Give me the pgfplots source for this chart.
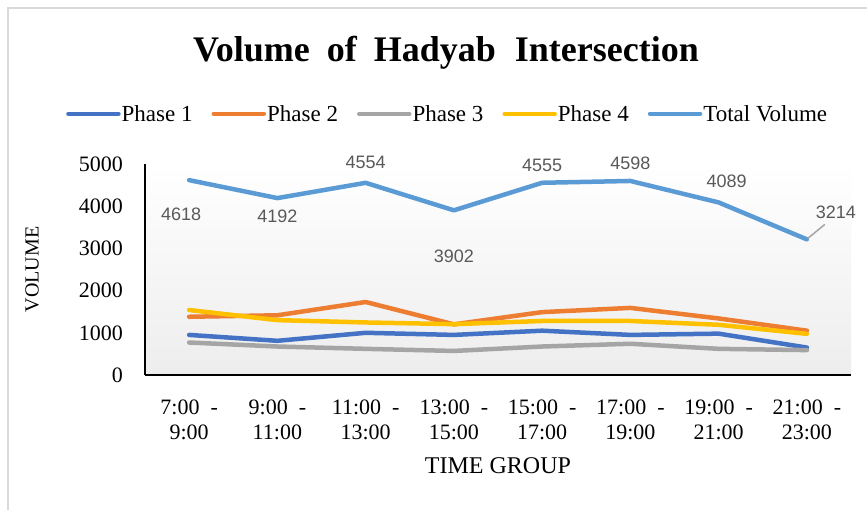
\documentclass[border=0pt]{standalone}
\usepackage{pgfplots}
\pgfplotsset{compat=1.18}
\usepackage{fontspec}
\setmainfont{Liberation Serif}
\newfontfamily\arial{Liberation Sans}
\definecolor{cP1}{HTML}{4472C4}
\definecolor{cP2}{HTML}{ED7D31}
\definecolor{cP3}{HTML}{A5A5A5}
\definecolor{cP4}{HTML}{FFC000}
\definecolor{cTot}{HTML}{5B9BD5}
\definecolor{lbl}{HTML}{595959}
\begin{document}
\begin{tikzpicture}[x=1pt,y=1pt]
\path[use as bounding box] (0,0) rectangle (867,509);
\begin{scope}
\clip (0,0) rectangle (867,509);
\fill[white] (0,0) rectangle (867,509);
\draw[black!15, line width=2pt] (8,-20) rectangle (900,501);
\node[font=\bfseries\fontsize{36}{40}\selectfont, inner sep=0pt] at (446,456) {Volume\hspace{17pt}of\hspace{17pt}Hadyab\hspace{19pt}Intersection};
\begin{axis}[
  at={(145pt,134pt)}, anchor=south west,
  width=706pt, height=211pt, scale only axis,
  xmin=-0.5, xmax=7.5, ymin=0, ymax=5000,
  axis lines*=left,
  axis line style={black, line width=1.6pt},
  axis background/.style={shade, top color=white, bottom color=black!7},
  xtick={0,...,7},
  xticklabels={{7:00\ \ -\\9:00},{9:00\ \ -\\11:00},{11:00\ \ -\\13:00},{13:00\ \ -\\15:00},{15:00\ \ -\\17:00},{17:00\ \ -\\19:00},{19:00\ \ -\\21:00},{21:00\ \ -\\23:00}},
  ytick={0,1000,2000,3000,4000,5000},
  yticklabels={0,1000,2000,3000,4000,5000},
  major tick length=0pt,
  ticklabel style={font=\fontsize{22}{25}\selectfont, inner sep=0pt},
  xticklabel style={align=center, yshift=-25pt},
  yticklabel style={xshift=-22pt},
  xlabel={TIME GROUP},
  ylabel={VOLUME},
  xlabel style={font=\fontsize{24}{26}\selectfont, at={(rel axis cs:0.5,-0.431)}, anchor=center, inner sep=0pt},
  ylabel style={font=\fontsize{20}{22}\selectfont, at={(rel axis cs:-0.160,0.5)}, anchor=center, rotate=0, inner sep=0pt},
  legend columns=5,
  legend style={at={(0.428,1.238)}, anchor=center, draw=none, fill=none,
    font=\fontsize{23}{25}\selectfont,
    /tikz/every even column/.append style={column sep=18pt},
    nodes={inner sep=1pt}},
  legend image code/.code={\draw[#1, line width=4.5pt, line cap=round] (0pt,0pt) -- (50pt,0pt);},
  every axis plot/.append style={line width=4.5pt, line cap=round, line join=round, mark=none},
  clip=false,
]
\addplot[cP1] coordinates {(0,950) (1,810) (2,1000) (3,950) (4,1050) (5,950) (6,980) (7,650)};
\addlegendentry{Phase 1}
\addplot[cP2] coordinates {(0,1380) (1,1415) (2,1730) (3,1200) (4,1490) (5,1590) (6,1340) (7,1050)};
\addlegendentry{Phase 2}
\addplot[cP3] coordinates {(0,770) (1,675) (2,620) (3,570) (4,675) (5,740) (6,620) (7,590)};
\addlegendentry{Phase 3}
\addplot[cP4] coordinates {(0,1540) (1,1300) (2,1245) (3,1205) (4,1280) (5,1280) (6,1190) (7,975)};
\addlegendentry{Phase 4}
\addplot[cTot] coordinates {(0,4618) (1,4192) (2,4554) (3,3902) (4,4555) (5,4598) (6,4089) (7,3214)};
\addlegendentry{Total Volume}
\begin{scope}[every node/.style={font=\arial\fontsize{18}{20}\selectfont, text=lbl, inner sep=0pt}]
\node[xshift=-8pt, yshift=-34pt] at (axis cs:0,4618) {4618};
\node[yshift=-18pt] at (axis cs:1,4192) {4192};
\node[yshift=20pt] at (axis cs:2,4554) {4554};
\node[yshift=-46pt] at (axis cs:3,3902) {3902};
\node[yshift=17pt] at (axis cs:4,4555) {4555};
\node[yshift=18pt] at (axis cs:5,4598) {4598};
\node[xshift=8pt, yshift=21pt] at (axis cs:6,4089) {4089};
\node[xshift=29pt, yshift=27pt] at (axis cs:7,3214) {3214};
\draw[cP3, line width=1.5pt] ([xshift=1pt,yshift=1pt]axis cs:7,3214) -- ([xshift=18pt,yshift=15pt]axis cs:7,3214);
\end{scope}
\end{axis}
\end{scope}
\end{tikzpicture}
\end{document}
